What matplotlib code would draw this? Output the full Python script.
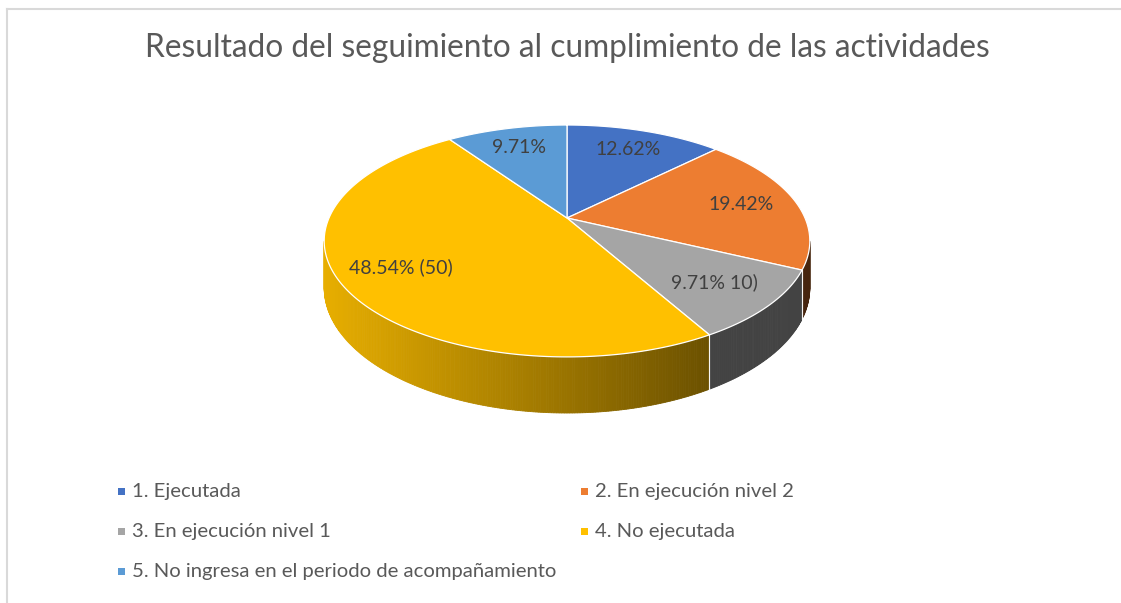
import numpy as np
import matplotlib
matplotlib.use("Agg")
import matplotlib.pyplot as plt
from matplotlib.patches import Polygon

# data (total 103 activities)
categories = ["1. Ejecutada", "2. En ejecución nivel 2", "3. En ejecución nivel 1",
              "4. No ejecutada", "5. No ingresa en el periodo de acompañamiento"]
counts = [13, 20, 10, 50, 10]
labels = ["12.62%", "19.42%", "9.71% 10)", "48.54% (50)", "9.71%"]
colors = ["#4472C4", "#ED7D31", "#A5A5A5", "#FFC000", "#5B9BD5"]

title = "Resultado del seguimiento al cumplimiento de las actividades"

plt.rcParams['font.family'] = ['Lato', 'DejaVu Sans']

W, H = 1121, 603
fig = plt.figure(figsize=(W / 100, H / 100), dpi=100)
ax = fig.add_axes([0, 0, 1, 1])
ax.set_xlim(0, W)
ax.set_ylim(H, 0)
ax.axis("off")

# pie geometry in pixels: a disc seen in perspective
px, py = 567, 218        # projected centre of the disc
A, B = 238, 111.4        # horizontal / vertical scale
p = 0.198                # perspective strength
d0 = 45                  # wall height (before perspective)


def proj(theta, r=1.0, drop=0.0):
    t = np.radians(theta)
    X, Z = r * np.sin(t), r * np.cos(t)
    w = 1 + p * Z
    return px + A * X / w, py - B * Z / w + drop / w


def shade(hexcol, x):
    rgb = np.array(matplotlib.colors.to_rgb(hexcol))
    frac = (x - (px - A)) / (2 * A)
    f = 0.9 - 0.6 * frac
    return tuple(np.clip(rgb * f, 0, 1))


total = sum(counts)
angles = np.cumsum([0] + [c / total * 360 for c in counts])
side_lo = np.degrees(np.arccos(-p))
side_hi = 360 - side_lo

# side walls (visible front part only)
for i in range(len(counts)):
    a0, a1 = max(angles[i], side_lo), min(angles[i + 1], side_hi)
    if a1 <= a0:
        continue
    ts = np.linspace(a0, a1, max(int((a1 - a0) * 2), 2))
    for t0, t1 in zip(ts[:-1], ts[1:]):
        x0, y0 = proj(t0)
        x1, y1 = proj(t1)
        x0b, y0b = proj(t0, drop=d0)
        x1b, y1b = proj(t1, drop=d0)
        c = shade(colors[i], (x0 + x1) / 2)
        if colors[i] == "#A5A5A5":
            c = "#434343"   # grey wall looks flat in the original
        ax.add_patch(Polygon([(x0, y0), (x1, y1), (x1b, y1b), (x0b, y0b)],
                             closed=True, facecolor=c, edgecolor=c, lw=0.6))
    for a in (angles[i], angles[i + 1]):
        if side_lo < a < side_hi:
            xa, ya = proj(a)
            xb, yb = proj(a, drop=d0)
            ax.plot([xa, xb], [ya, yb], color="white", lw=0.8, alpha=0.8)

# top faces
for i in range(len(counts)):
    ts = np.linspace(angles[i], angles[i + 1], 200)
    pts = [(px, py)] + [proj(t) for t in ts]
    ax.add_patch(Polygon(pts, closed=True, facecolor=colors[i],
                         edgecolor="white", lw=0.9))

# data labels
for i in range(len(counts)):
    mid = (angles[i] + angles[i + 1]) / 2
    lx, ly = proj(mid, r=0.76)
    ax.text(lx, ly, labels[i], ha="center", va="center", fontsize=14, color="#404040")

# title
ax.text(567, 48, title, ha="center", va="center", fontsize=22.8, color="#595959")

# legend
for i, name in enumerate(categories):
    col, row = i % 2, i // 2
    x = 121 + col * 463
    y = 491 + row * 40
    ax.add_patch(plt.Rectangle((x - 3.5, y - 3.5), 7, 7, facecolor=colors[i], edgecolor="none"))
    ax.text(x + 11, y, name, ha="left", va="center", fontsize=14.6, color="#595959")

# chart frame (top and left edges visible)
ax.plot([7, W], [9, 9], color="#d9d9d9", lw=1.5)
ax.plot([7, 7], [9, H], color="#d9d9d9", lw=1.5)

fig.savefig("out.png", dpi=100)
